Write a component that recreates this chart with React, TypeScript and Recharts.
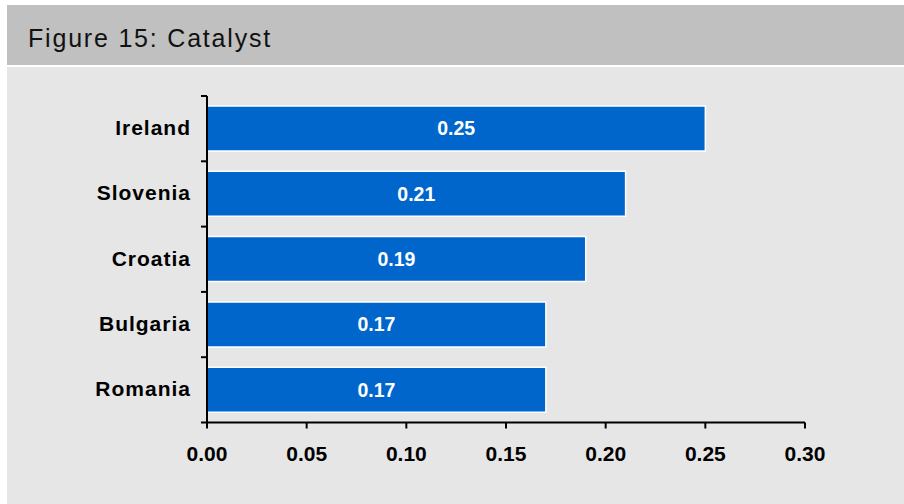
import { BarChart, Bar, XAxis, YAxis, LabelList } from "recharts";

const countries = ["Ireland", "Slovenia", "Croatia", "Bulgaria", "Romania"];
const scores = [0.25, 0.21, 0.19, 0.17, 0.17];
const xTicks = [0, 0.05, 0.1, 0.15, 0.2, 0.25, 0.3];

const data = countries.map((country, i) => ({ country, score: scores[i] }));

const FONT = "'Liberation Sans', Arial, Helvetica, sans-serif";
const TICK_SIZE = 6;
const TICK_MARGIN = 11;

// category labels sit mid-band, tick marks go on the band edges
function CountryTick(props: any) {
  const { x, y, payload, index } = props;
  const half = payload?.offset ?? 32.65;
  const x1 = x + TICK_MARGIN;
  const x2 = x1 + TICK_SIZE;
  return (
    <g>
      <line x1={x1} x2={x2} y1={y - half} y2={y - half} stroke="#000" strokeWidth={2} />
      {index === countries.length - 1 && (
        <line x1={x1} x2={x2} y1={y + half} y2={y + half} stroke="#000" strokeWidth={2} />
      )}
      <text
        x={x + 1}
        y={y - 1}
        dy="0.355em"
        textAnchor="end"
        fill="#000"
        fontFamily={FONT}
        fontWeight="bold"
        fontSize={21}
        letterSpacing={1}
      >
        {payload.value}
      </text>
    </g>
  );
}

export default function App() {
  return (
    <div style={{ position: "absolute", left: 7, top: 5, width: 897, height: 499, fontFamily: FONT }}>
      <div
        style={{
          height: 60,
          background: "#c0c0c0",
          boxSizing: "border-box",
          paddingLeft: 21,
          paddingTop: 20.5,
          fontSize: 25,
          lineHeight: "25px",
          letterSpacing: 1.8,
          color: "#111",
        }}
      >
        Figure 15: Catalyst
      </div>
      <div style={{ marginTop: 2, height: 437, background: "#e6e6e6" }}>
        <BarChart
          width={897}
          height={437}
          data={data}
          layout="vertical"
          margin={{ top: 29, right: 99, left: 0, bottom: 0 }}
          barSize={45}
        >
          <XAxis
            type="number"
            domain={[0, 0.3]}
            ticks={xTicks}
            tickFormatter={(v: number) => v.toFixed(2)}
            height={81.5}
            axisLine={{ stroke: "#000", strokeWidth: 2 }}
            tickLine={{ stroke: "#000", strokeWidth: 2 }}
            tickSize={TICK_SIZE}
            tickMargin={18}
            tick={{ fill: "#000", fontSize: 21, fontWeight: "bold", fontFamily: FONT }}
          />
          <YAxis
            type="category"
            dataKey="country"
            width={200}
            axisLine={{ stroke: "#000", strokeWidth: 2 }}
            tickLine={false}
            tickSize={TICK_SIZE}
            tickMargin={TICK_MARGIN}
            tick={<CountryTick />}
            interval={0}
          />
          <Bar dataKey="score" fill="#0066cc" stroke="#ffffff" strokeWidth={1.5} isAnimationActive={false}>
            <LabelList
              dataKey="score"
              position="center"
              formatter={(v: number) => v.toFixed(2)}
              fill="#ffffff"
              fontSize={19.5}
              fontWeight="bold"
              fontFamily={FONT}
            />
          </Bar>
        </BarChart>
      </div>
    </div>
  );
}
